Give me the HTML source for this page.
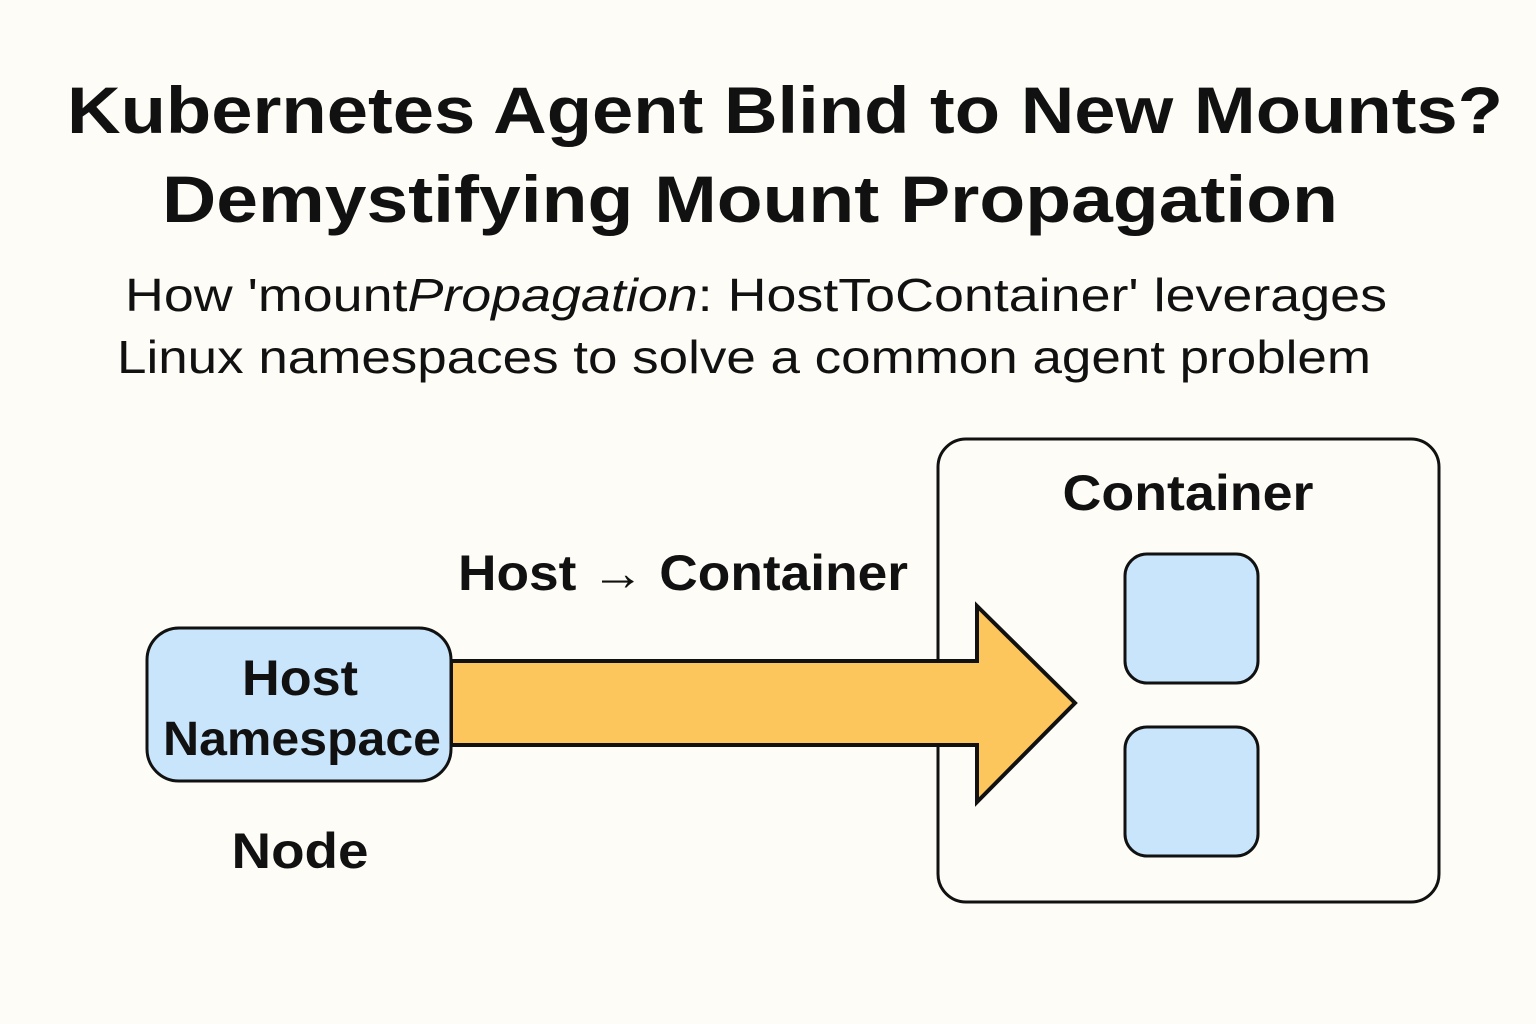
<!DOCTYPE html>
<html><head><meta charset="utf-8"><style>
html,body{margin:0;padding:0;background:#fdfcf6;}
svg{display:block}
text{font-family:"Liberation Sans","DejaVu Sans",sans-serif;fill:#111;}
.b{font-weight:bold}
</style></head><body>
<svg width="1536" height="1024" viewBox="0 0 1536 1024" xmlns="http://www.w3.org/2000/svg">
<rect width="1536" height="1024" fill="#fdfcf6"/>
<text class="b" x="785" y="133" font-size="66" text-anchor="middle" textLength="1436" lengthAdjust="spacingAndGlyphs">Kubernetes Agent Blind to New Mounts?</text>
<text class="b" x="750" y="222" font-size="66" text-anchor="middle" textLength="1176" lengthAdjust="spacingAndGlyphs">Demystifying Mount Propagation</text>
<text x="756" y="311" font-size="46" text-anchor="middle" textLength="1262" lengthAdjust="spacingAndGlyphs">How 'mount<tspan font-style="italic">Propagation</tspan>: HostToContainer' leverages</text>
<text x="744" y="373" font-size="46" text-anchor="middle" textLength="1254" lengthAdjust="spacingAndGlyphs">Linux namespaces to solve a common agent problem</text>

<rect x="938" y="439" width="501" height="463" rx="28" fill="none" stroke="#111" stroke-width="3"/>
<text class="b" x="1188" y="510" font-size="50" text-anchor="middle" textLength="251" lengthAdjust="spacingAndGlyphs">Container</text>
<rect x="1125" y="554" width="133" height="129" rx="22" fill="#c9e5fb" stroke="#111" stroke-width="3"/>
<rect x="1125" y="727" width="133" height="129" rx="22" fill="#c9e5fb" stroke="#111" stroke-width="3"/>

<text class="b" x="683" y="590" font-size="50" text-anchor="middle" textLength="450" lengthAdjust="spacingAndGlyphs">Host → Container</text>

<polygon points="451,661 977,661 977,606 1075,703 977,802 977,745 451,745" fill="#fcc65c" stroke="#111" stroke-width="4" stroke-linejoin="miter"/>

<rect x="147" y="628" width="304" height="153" rx="32" fill="#c9e5fb" stroke="#111" stroke-width="3"/>
<text class="b" x="300" y="695" font-size="50" text-anchor="middle" textLength="116" lengthAdjust="spacingAndGlyphs">Host</text>
<text class="b" x="302" y="755" font-size="48" text-anchor="middle" textLength="278" lengthAdjust="spacingAndGlyphs">Namespace</text>
<text class="b" x="300" y="868" font-size="50" text-anchor="middle" textLength="137" lengthAdjust="spacingAndGlyphs">Node</text>
</svg>
</body></html>
